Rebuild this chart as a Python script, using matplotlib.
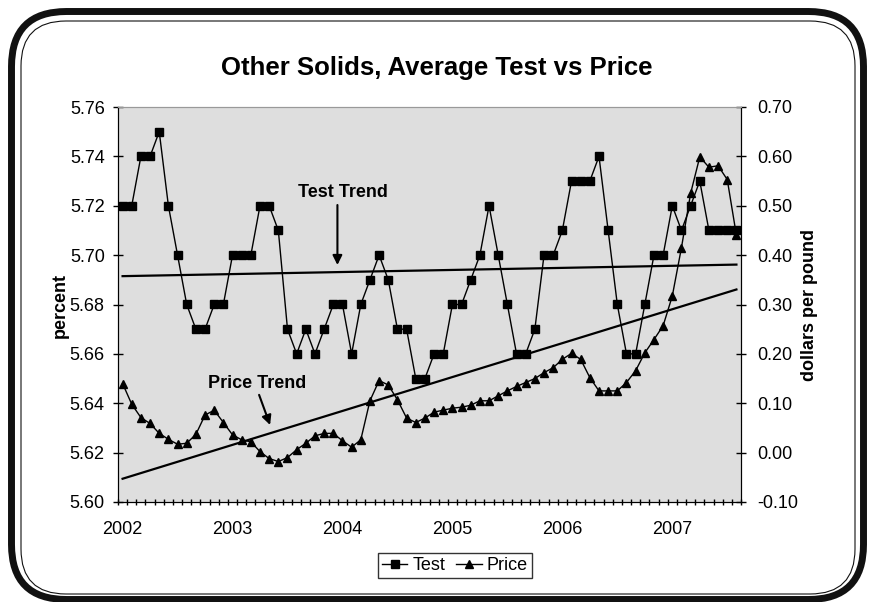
import numpy as np
import matplotlib
matplotlib.use("Agg")
import matplotlib.pyplot as plt
from matplotlib.patches import FancyBboxPatch
from matplotlib.lines import Line2D

plt.rcParams['font.family'] = ['Liberation Sans', 'DejaVu Sans']

# monthly data, Jan 2002 .. Aug 2007
test = [5.72, 5.72, 5.74, 5.74, 5.75, 5.72, 5.70, 5.68, 5.67, 5.67, 5.68, 5.68,
        5.70, 5.70, 5.70, 5.72, 5.72, 5.71, 5.67, 5.66, 5.67, 5.66, 5.67, 5.68,
        5.68, 5.66, 5.68, 5.69, 5.70, 5.69, 5.67, 5.67, 5.65, 5.65, 5.66, 5.66,
        5.68, 5.68, 5.69, 5.70, 5.72, 5.70, 5.68, 5.66, 5.66, 5.67, 5.70, 5.70,
        5.71, 5.73, 5.73, 5.73, 5.74, 5.71, 5.68, 5.66, 5.66, 5.68, 5.70, 5.70,
        5.72, 5.71, 5.72, 5.73, 5.71, 5.71, 5.71, 5.71]
price = [0.140, 0.098, 0.071, 0.059, 0.039, 0.027, 0.017, 0.019, 0.037, 0.076, 0.086, 0.061,
         0.036, 0.026, 0.022, 0.002, -0.012, -0.018, -0.010, 0.006, 0.019, 0.034, 0.039, 0.039,
         0.024, 0.011, 0.026, 0.105, 0.146, 0.137, 0.107, 0.070, 0.061, 0.070, 0.082, 0.086,
         0.090, 0.092, 0.096, 0.105, 0.105, 0.115, 0.125, 0.134, 0.142, 0.150, 0.162, 0.172,
         0.189, 0.201, 0.189, 0.152, 0.125, 0.125, 0.125, 0.142, 0.166, 0.202, 0.229, 0.257,
         0.317, 0.415, 0.525, 0.599, 0.578, 0.581, 0.553, 0.440]
year_labels = ['2002', '2003', '2004', '2005', '2006', '2007']

x = np.arange(len(test))

fig = plt.figure(figsize=(8.74, 6.02), dpi=100)

# rounded double frame, drawn in pixel coordinates
bg = fig.add_axes([0, 0, 1, 1])
bg.set_xlim(0, 874)
bg.set_ylim(602, 0)
bg.axis('off')
bg.add_patch(FancyBboxPatch((11.5, 11.5), 852, 588, boxstyle='round,pad=0,rounding_size=55',
                            fill=False, ec='#111111', lw=5))
bg.add_patch(FancyBboxPatch((21, 21), 834, 573, boxstyle='round,pad=0,rounding_size=45',
                            fill=False, ec='#111111', lw=0.8))

ax = fig.add_axes([118 / 874, 1 - 502 / 602, 623 / 874, 395 / 602])
ax.set_facecolor('#dedede')
ax2 = ax.twinx()

ax.plot(x, test, color='black', lw=1, marker='s', ms=5.5, label='Test')
ax2.plot(x, price, color='black', lw=1, marker='^', ms=6, label='Price')

# linear trend lines
tfit = np.polyfit(x, test, 1)
pfit = np.polyfit(x, price, 1)
ax.plot(x, np.polyval(tfit, x), color='black', lw=1.6)
ax2.plot(x, np.polyval(pfit, x), color='black', lw=1.6)

ax.set_xlim(-0.5, len(test) - 0.5)
ax.set_ylim(5.60, 5.76)
ax2.set_ylim(-0.10, 0.70)
ax.set_yticks(np.arange(5.60, 5.7601, 0.02))
ax.set_yticklabels([f'{v:.2f}' for v in np.arange(5.60, 5.7601, 0.02)])
ax2.set_yticks(np.arange(-0.10, 0.7001, 0.10))
ax2.set_yticklabels([f'{v:.2f}' for v in np.arange(-0.10, 0.7001, 0.10)])

ax.set_xticks(np.arange(0, len(test), 12))
ax.set_xticklabels(year_labels)
ax.set_xticks(np.arange(-0.5, len(test), 1), minor=True)
ax.tick_params(axis='x', which='major', length=0, pad=14, labelsize=13)
ax.tick_params(axis='x', which='minor', direction='inout', length=5, width=1)
ax.tick_params(axis='y', direction='inout', length=7, width=1, pad=6, labelsize=13)
ax2.tick_params(axis='y', direction='inout', length=7, width=1, pad=8, labelsize=13)

for s in ['left', 'bottom']:
    ax.spines[s].set_color('black')
ax.spines['top'].set_color('#999999')
ax2.spines['top'].set_color('#999999')
ax2.spines['right'].set_color('black')

fig.text(437 / 874, 1 - 68 / 602, 'Other Solids, Average Test vs Price', ha='center', va='center',
         fontsize=18.5, fontweight='bold')
fig.text(60 / 874, 1 - 305 / 602, 'percent', rotation=90, ha='center', va='center',
         fontsize=13, fontweight='bold')
fig.text(809 / 874, 1 - 305 / 602, 'dollars per pound', rotation=90, ha='center', va='center',
         fontsize=13, fontweight='bold')

# callouts for the trend lines
arrow = dict(arrowstyle='-|>', color='black', lw=1.5, mutation_scale=14, shrinkA=0, shrinkB=0)
ax.text(24, 5.7252, 'Test Trend', ha='center', va='center', fontsize=13, fontweight='bold')
ax.annotate('', xy=(23.45, 5.696), xytext=(23.45, 5.7203), arrowprops=arrow)
ax.text(14.7, 5.6482, 'Price Trend', ha='center', va='center', fontsize=13, fontweight='bold')
ax.annotate('', xy=(16.1, 5.6312), xytext=(14.9, 5.6434), arrowprops=arrow)

handles = [Line2D([], [], color='black', lw=1, marker='s', ms=5.5),
           Line2D([], [], color='black', lw=1, marker='^', ms=6)]
fig.legend(handles, ['Test', 'Price'], loc='center', bbox_to_anchor=(455 / 874, 1 - 565.5 / 602),
           ncol=2, fontsize=13, frameon=True, fancybox=False, edgecolor='black',
           handlelength=1.4, handletextpad=0.3, columnspacing=0.6, borderpad=0.2,
           borderaxespad=0)

fig.savefig('out.png', dpi=100)
